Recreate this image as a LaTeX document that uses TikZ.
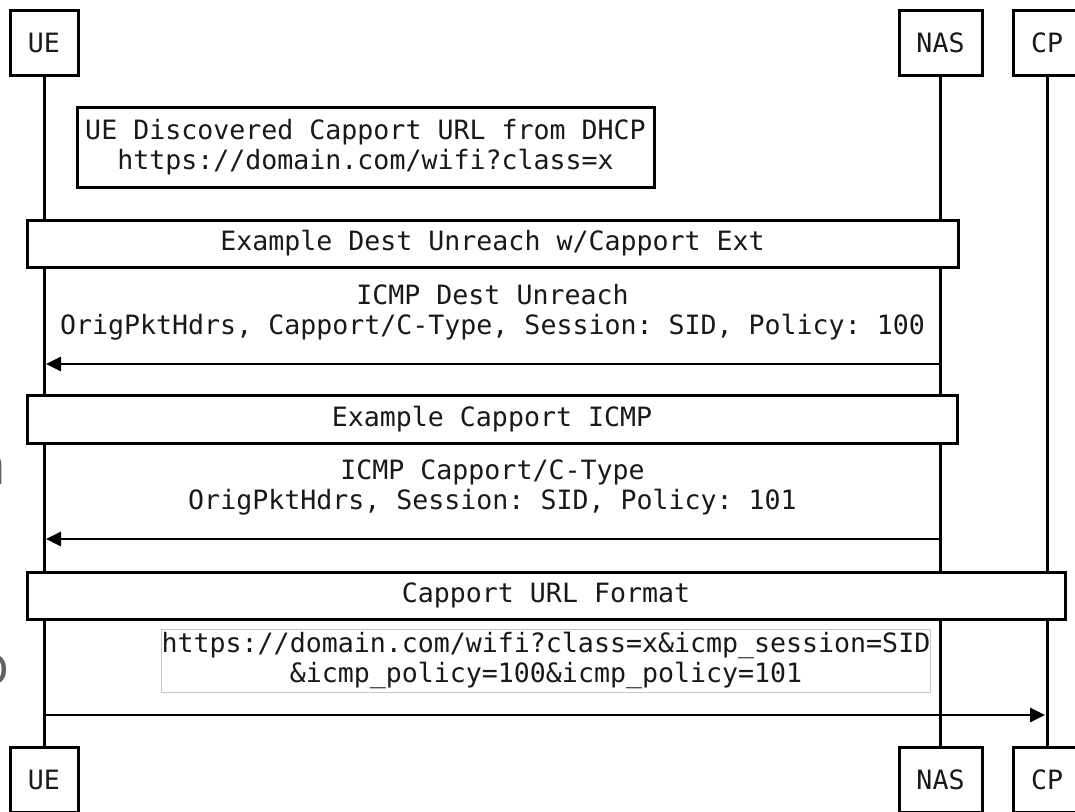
\documentclass[tikz,border=0pt]{standalone}
\usepackage{fontspec}
\setmonofont{DejaVu Sans Mono}
\newfontfamily\sidefont{Open Sans}
\usetikzlibrary{arrows.meta}

\tikzset{
  every node/.style={font=\ttfamily\fontsize{13.3}{15}\selectfont, text=black!90},
  actor/.style={draw, line width=1.5pt, fill=white, minimum width=34pt, minimum height=32.5pt, inner sep=0pt},
  lifeline/.style={line width=1.5pt},
  bar/.style={draw, line width=1.5pt, fill=white, minimum height=23.5pt, inner sep=0pt},
  notebox/.style={draw, line width=1.5pt, fill=white, align=center, inner sep=0pt},
  urlbox/.style={draw=black!22, line width=0.5pt, fill=white, align=center, inner sep=0pt},
  lbl/.style={align=center, inner sep=0pt},
  msg/.style={line width=1.4pt, -{Triangle[length=7.5pt, width=7pt]}},
  sidetext/.style={font=\sidefont\fontsize{27.5}{30}\selectfont, text=black!62, inner sep=0pt, anchor=base east}
}

\begin{document}
\begin{tikzpicture}[x=0.5pt, y=-0.5pt]
  \useasboundingbox (0,0) rectangle (1075,811);
  \clip (0,0) rectangle (1075,811);
  \fill[white] (0,0) rectangle (1075,811);

  % participants, top and bottom
  \node[actor] (ueT)  at (44,42.5)    {UE};
  \node[actor, minimum width=41.5pt] (nasT) at (940.5,42.5) {NAS};
  \node[actor] (cpT)  at (1047,42.5)  {CP};
  \node[actor] (ueB)  at (44,779.5)   {UE};
  \node[actor, minimum width=41.5pt] (nasB) at (940.5,779.5) {NAS};
  \node[actor] (cpB)  at (1047,779.5) {CP};

  % lifelines
  \draw[lifeline] (ueT.south) -- (ueB.north);
  \draw[lifeline] (nasT.south) -- (nasB.north);
  \draw[lifeline] (cpT.south) -- (cpB.north);

  % note
  \node[notebox, minimum width=288.5pt, minimum height=40pt] (note) at (365.5,147)
    {UE Discovered Capport URL from DHCP\\https://domain.com/wifi?class=x};

  % section bars
  \node[bar, minimum width=465.5pt] (barA) at (492.5,243.5) {Example Dest Unreach w/Capport Ext};
  \node[bar, minimum width=465pt, minimum height=24pt] (barB) at (492,419) {Example Capport ICMP};
  \node[bar, minimum width=519pt] (barC) at (546,595.5) {Capport URL Format};

  % message 1: NAS -> UE
  \node[lbl] (labA) at (492.5,312)
    {ICMP Dest Unreach\\OrigPktHdrs, Capport/C-Type, Session: SID, Policy: 100};
  \coordinate (nasA) at (941,364);
  \coordinate (ueA)  at (46,364);
  \draw[msg] (nasA) -- (ueA);

  % message 2: NAS -> UE
  \node[lbl] (labB) at (492.5,487)
    {ICMP Capport/C-Type\\OrigPktHdrs, Session: SID, Policy: 101};
  \coordinate (nasB2) at (941,539);
  \coordinate (ueB2)  at (46,539);
  \draw[msg] (nasB2) -- (ueB2);

  % message 3: UE -> CP
  \node[urlbox, minimum width=384pt, minimum height=31.5pt] (url) at (546,660.5)
    {https://domain.com/wifi?class=x\&icmp\_session=SID\\\&icmp\_policy=100\&icmp\_policy=101};
  \coordinate (ueC) at (44,715);
  \coordinate (cpC) at (1045,715);
  \draw[msg] (ueC) -- (cpC);

  % letters cut by the left edge
  \node[sidetext] (sideN) at (7,484) {n};
  \node[sidetext] (sideO) at (10,684) {o};
\end{tikzpicture}
\end{document}
